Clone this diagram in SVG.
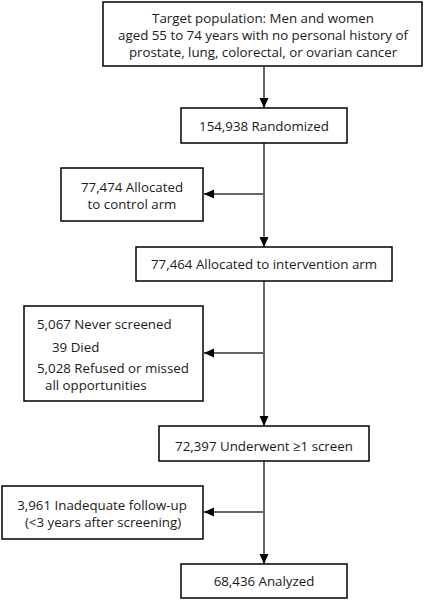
<svg xmlns="http://www.w3.org/2000/svg" width="426" height="600" viewBox="0 0 426 600">
<defs>
<marker id="ah" markerUnits="userSpaceOnUse" markerWidth="10" markerHeight="10" viewBox="0 0 10 10" refX="10" refY="5" orient="auto">
<path d="M0,0.5 L10,5 L0,9.5 Z" fill="#000"/>
</marker>
<style>
rect{fill:#fff;stroke:#000;stroke-width:1.5}
text{font-family:"Open Sans","Liberation Sans",Arial,sans-serif;font-size:13.3px;fill:#1a1a1a}
.c{text-anchor:middle}
#connectors line{stroke:#666;stroke-width:2}
</style>
</defs>
<rect x="0" y="0" width="426" height="600" style="fill:#fff;stroke:none"/>
<g id="connectors">
<line x1="264" y1="67" x2="264" y2="108" marker-end="url(#ah)"/>
<line x1="264" y1="143" x2="264" y2="247" marker-end="url(#ah)"/>
<line x1="264" y1="194" x2="204" y2="194" marker-end="url(#ah)"/>
<line x1="264" y1="281" x2="264" y2="426" marker-end="url(#ah)"/>
<line x1="264" y1="353" x2="204" y2="353" marker-end="url(#ah)"/>
<line x1="264" y1="461" x2="264" y2="564" marker-end="url(#ah)"/>
<line x1="264" y1="512" x2="204" y2="512" marker-end="url(#ah)"/>
</g>
<g id="target">
<rect x="103" y="2" width="319" height="64"/>
<text class="c"><tspan x="263" y="22.5">Target population: Men and women</tspan><tspan x="263" y="39.5">aged 55 to 74 years with no personal history of</tspan><tspan x="263" y="56.5">prostate, lung, colorectal, or ovarian cancer</tspan></text>
</g>
<g id="randomized">
<rect x="181" y="108" width="166" height="35"/>
<text class="c" x="264" y="130.5">154,938 Randomized</text>
</g>
<g id="control">
<rect x="61" y="168" width="142" height="53"/>
<text class="c"><tspan x="132" y="191.5">77,474 Allocated</tspan><tspan x="132" y="208.5">to control arm</tspan></text>
</g>
<g id="intervention">
<rect x="136" y="247" width="256" height="34"/>
<text class="c" x="264" y="269">77,464 Allocated to intervention arm</text>
</g>
<g id="never">
<rect x="24" y="306" width="179" height="95"/>
<text x="37" y="329">5,067 Never screened</text>
<text x="52" y="352">39 Died</text>
<text><tspan x="37" y="373">5,028 Refused or missed</tspan><tspan x="45" y="390">all opportunities</tspan></text>
</g>
<g id="underwent">
<rect x="159" y="426" width="210" height="35"/>
<text class="c" x="264" y="451">72,397 Underwent ≥1 screen</text>
</g>
<g id="inadequate">
<rect x="2" y="486" width="201" height="53"/>
<text class="c"><tspan x="102" y="510">3,961 Inadequate follow-up</tspan><tspan x="103" y="527">(&lt;3 years after screening)</tspan></text>
</g>
<g id="analyzed">
<rect x="181" y="564" width="166" height="34"/>
<text class="c" x="264" y="586">68,436 Analyzed</text>
</g>
</svg>
